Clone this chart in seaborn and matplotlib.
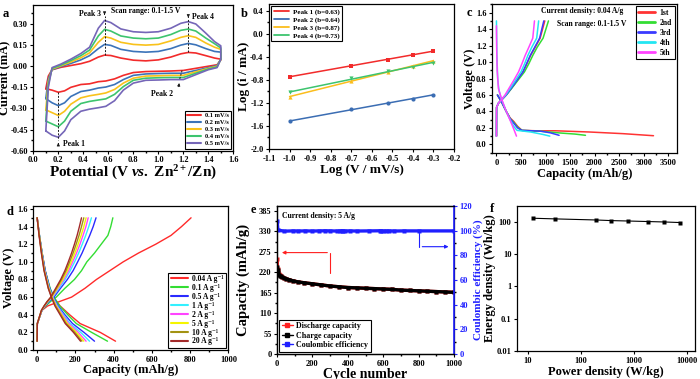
import numpy as np
import pandas as pd
import matplotlib
matplotlib.use("Agg")
import matplotlib.pyplot as plt
import seaborn as sns
from matplotlib.lines import Line2D
from matplotlib.ticker import MultipleLocator, AutoMinorLocator, FormatStrFormatter, FixedLocator, FixedFormatter, NullLocator

# ---------------- data ----------------
# (a) CV curves at 5 scan rates
rates_a = ["0.1 mV/s", "0.2 mV/s", "0.3 mV/s", "0.4 mV/s", "0.5 mV/s"]
colors_a = ["#f22b2b", "#3b73b9", "#f9c21b", "#3dc46e", "#7566b8"]
pot_down = [0.10, 0.15, 0.20, 0.25, 0.30, 0.38, 0.45, 0.52, 0.58, 0.65, 0.72, 0.80, 0.90, 1.00, 1.10, 1.20, 1.30, 1.40, 1.47, 1.50]
down_01 = [-0.16, -0.17, -0.185, -0.175, -0.15, -0.13, -0.125, -0.11, -0.105, -0.09, -0.065, -0.045, -0.038, -0.036, -0.034, -0.03, -0.015, 0.0, 0.01, 0.045]
down_02 = [-0.23, -0.26, -0.28, -0.26, -0.215, -0.18, -0.17, -0.155, -0.148, -0.13, -0.095, -0.065, -0.055, -0.052, -0.05, -0.05, -0.03, -0.01, 0.005, 0.05]
down_03 = [-0.31, -0.33, -0.35, -0.32, -0.27, -0.225, -0.21, -0.2, -0.19, -0.165, -0.12, -0.085, -0.07, -0.068, -0.065, -0.065, -0.04, -0.015, 0.0, 0.05]
down_04 = [-0.39, -0.41, -0.43, -0.39, -0.32, -0.265, -0.25, -0.24, -0.232, -0.2, -0.145, -0.1, -0.085, -0.082, -0.08, -0.08, -0.05, -0.02, -0.005, 0.05]
down_05 = [-0.46, -0.49, -0.505, -0.46, -0.38, -0.32, -0.305, -0.295, -0.285, -0.245, -0.17, -0.12, -0.1, -0.098, -0.095, -0.095, -0.06, -0.025, -0.01, 0.05]
pot_up = [0.10, 0.12, 0.15, 0.22, 0.30, 0.38, 0.45, 0.52, 0.57, 0.62, 0.70, 0.80, 0.90, 1.00, 1.10, 1.18, 1.24, 1.30, 1.38, 1.45, 1.50]
up_01 = [-0.16, -0.07, -0.025, -0.008, 0.005, 0.018, 0.035, 0.065, 0.079, 0.076, 0.058, 0.043, 0.038, 0.045, 0.065, 0.088, 0.098, 0.094, 0.075, 0.058, 0.05]
up_02 = [-0.23, -0.09, -0.025, -0.002, 0.02, 0.045, 0.075, 0.125, 0.155, 0.148, 0.12, 0.105, 0.10, 0.105, 0.125, 0.15, 0.162, 0.152, 0.125, 0.105, 0.10]
up_03 = [-0.31, -0.11, -0.02, 0.003, 0.03, 0.06, 0.095, 0.17, 0.21, 0.20, 0.17, 0.155, 0.15, 0.155, 0.18, 0.205, 0.217, 0.205, 0.165, 0.135, 0.12]
up_04 = [-0.39, -0.13, -0.015, 0.008, 0.04, 0.075, 0.115, 0.215, 0.262, 0.25, 0.215, 0.20, 0.195, 0.20, 0.225, 0.255, 0.264, 0.25, 0.20, 0.16, 0.13]
up_05 = [-0.46, -0.15, -0.01, 0.015, 0.05, 0.09, 0.135, 0.27, 0.325, 0.31, 0.265, 0.245, 0.24, 0.245, 0.27, 0.305, 0.317, 0.30, 0.235, 0.175, 0.145]

# (b) log i vs log v
log_v = [-1.0, -0.699, -0.523, -0.398, -0.301]
peak1 = [-0.743, -0.558, -0.454, -0.368, -0.293]
peak2 = [-1.52, -1.31, -1.198, -1.135, -1.06]
peak3 = [-1.095, -0.818, -0.662, -0.558, -0.471]
peak4 = [-1.02, -0.777, -0.65, -0.581, -0.50]
labels_b = ["Peak 1 (b=0.63)", "Peak 2 (b=0.64)", "Peak 3 (b=0.87)", "Peak 4 (b=0.73)"]
colors_b = ["#f22b2b", "#3b6db3", "#fbbd1c", "#3dc46e"]

# (c) first five cycles at 0.04 A/g
cycles_c = ["1st", "2nd", "3rd", "4th", "5th"]
colors_c = ["#ff3333", "#33dd33", "#3a3aff", "#22e6f2", "#ff44ff"]
dis_cap_1 = [20, 100, 200, 280, 350, 430, 520, 800, 1200, 1900, 2580, 3200]
dis_v_1 = [0.60, 0.52, 0.40, 0.32, 0.28, 0.22, 0.17, 0.165, 0.165, 0.15, 0.13, 0.105]
dis_cap_2 = [20, 100, 200, 280, 350, 430, 520, 900, 1300, 1600, 1814]
dis_v_2 = [0.60, 0.52, 0.40, 0.31, 0.27, 0.21, 0.17, 0.16, 0.138, 0.125, 0.11]
dis_cap_3 = [20, 100, 200, 280, 350, 430, 520, 900, 1100, 1277]
dis_v_3 = [0.60, 0.52, 0.40, 0.31, 0.26, 0.20, 0.17, 0.16, 0.14, 0.11]
dis_cap_4 = [0, 8, 25, 50, 100, 200, 280, 350, 420, 700, 950, 1087]
dis_v_4 = [1.50, 1.10, 0.80, 0.66, 0.55, 0.40, 0.30, 0.22, 0.17, 0.15, 0.12, 0.10]
dis_cap_5 = [0, 5, 15, 40, 100, 200, 280, 350, 408]
dis_v_5 = [1.44, 1.15, 0.90, 0.68, 0.56, 0.40, 0.29, 0.19, 0.10]
chg_v = [0.10, 0.45, 0.50, 0.55, 0.60, 0.68, 0.78, 0.88, 0.98, 1.08, 1.18, 1.29, 1.50]
chg_cap_1 = [0, 3, 40, 120, 200, 300, 420, 540, 620, 695, 790, 890, 985]
chg_cap_2 = [0, 3, 40, 120, 200, 310, 440, 570, 660, 740, 830, 950, 1060]
chg_cap_3 = [0, 3, 40, 120, 200, 300, 420, 540, 615, 690, 780, 880, 965]
chg_cap_4 = [0, 3, 40, 115, 190, 280, 390, 500, 575, 640, 720, 820, 860]
chg_cap_5 = [0, 3, 40, 110, 175, 255, 355, 450, 520, 585, 660, 740, 775]

# (d) rate performance
rates_d = ["0.04 A g⁻¹", "0.1 A g⁻¹", "0.5 A g⁻¹", "1 A g⁻¹",
           "2 A g⁻¹", "5 A g⁻¹", "10 A g⁻¹", "20 A g⁻¹"]
colors_d = ["#ff2a2a", "#33dd33", "#2a2aff", "#33f0ff", "#ff44ff", "#f5f500", "#a39212", "#a32a2a"]
d_chg_v = [0.10, 0.30, 0.45, 0.50, 0.55, 0.60, 0.70, 0.80, 0.90, 1.00, 1.10, 1.20, 1.30, 1.40, 1.50]
d_chg_004 = [0, 1, 25, 55, 117, 180, 250, 310, 380, 450, 530, 620, 700, 755, 805]
d_chg_01 = [0, 1, 25, 45, 70, 100, 145, 195, 232, 260, 300, 335, 370, 385, 396]
d_chg_05 = [0, 1, 25, 42, 62, 88, 122, 158, 188, 212, 235, 255, 275, 293, 308]
d_chg_1 = [0, 1, 24, 40, 58, 82, 114, 146, 173, 196, 217, 236, 254, 270, 284]
d_chg_2 = [0, 1, 24, 39, 56, 79, 109, 139, 165, 186, 206, 224, 240, 255, 267]
d_chg_5 = [0, 1, 23, 38, 55, 76, 105, 134, 158, 178, 197, 214, 230, 244, 256]
d_chg_10 = [0, 1, 23, 37, 53, 73, 101, 128, 151, 170, 188, 204, 219, 232, 244]
d_chg_20 = [0, 1, 22, 36, 52, 71, 97, 123, 145, 163, 180, 195, 209, 221, 232]
d_dis_v = [1.50, 1.30, 1.10, 0.90, 0.70, 0.60, 0.50, 0.40, 0.30, 0.20, 0.10]
d_dis_004 = [0, 12, 26, 42, 66, 85, 120, 170, 225, 330, 410]
d_dis_01 = [0, 12, 26, 42, 68, 88, 118, 160, 205, 285, 368]
d_dis_05 = [0, 12, 26, 42, 66, 84, 110, 145, 185, 245, 300]
d_dis_1 = [0, 12, 25, 40, 64, 82, 106, 138, 172, 228, 274]
d_dis_2 = [0, 11, 24, 39, 62, 80, 102, 133, 165, 215, 256]
d_dis_5 = [0, 11, 24, 38, 61, 78, 99, 128, 158, 205, 244]
d_dis_10 = [0, 11, 23, 37, 59, 76, 96, 124, 152, 197, 234]
d_dis_20 = [0, 10, 22, 36, 58, 74, 93, 120, 147, 190, 227]

# (e) long cycling at 5 A/g
cycles_e = [1, 3, 6, 10, 15, 20, 30, 40, 50, 70, 90, 120, 150, 200, 250, 300, 350, 400, 450, 500,
            550, 600, 650, 700, 750, 800, 850, 900, 950, 1000]
charge_e = [235, 225, 218, 214, 211, 209, 206, 205, 203, 200, 197, 194, 192, 189, 186, 183, 181, 179, 178, 177,
            176, 175, 174, 172, 171, 170, 169, 168, 167, 166]
discharge_e = [255, 228, 220, 215, 212, 210, 207, 205, 203, 200, 197, 194, 192, 189, 186, 183, 181, 179, 178, 177,
               176, 175, 174, 172, 171, 170, 169, 168, 167, 166]
ce_cycles = [1, 5, 40, 90, 120, 160, 200, 240, 270, 300, 340, 355, 365, 375, 385, 410, 450, 520,
             580, 590, 600, 615, 630, 660, 720, 805, 1000]
ce_vals = [108, 100.5, 99.6, 99.8, 99.7, 99.8, 99.7, 99.8, 99.9, 99.8, 99.7, 99.8, 99.9, 99.8, 99.7, 99.8,
           99.7, 99.8, 99.9, 99.8, 99.7, 99.8, 99.8, 99.7, 99.8, 99.8, 99.8]

# (f) Ragone plot
power_f = [12.2, 32.8, 192, 379, 782, 1865, 3790, 7593]
energy_f = [128, 122, 113, 108, 105, 101, 98, 94]

# ---------------- style ----------------
sns.set_theme(style="ticks")
plt.rcParams.update({
    "font.family": ["Liberation Serif", "DejaVu Serif"],
    "font.weight": "bold",
    "axes.labelweight": "bold",
    "mathtext.fontset": "custom",
    "mathtext.rm": "Liberation Serif:bold",
    "mathtext.bf": "Liberation Serif:bold",
    "mathtext.it": "Liberation Serif:italic:bold",
    "axes.unicode_minus": False,
    "axes.edgecolor": "black",
    "axes.linewidth": 0.9,
    "text.color": "black",
    "axes.labelcolor": "black",
    "xtick.color": "black",
    "ytick.color": "black",
    "xtick.labelsize": 6,
    "ytick.labelsize": 6,
    "xtick.major.size": 2.5,
    "ytick.major.size": 2.5,
    "xtick.minor.size": 1.5,
    "ytick.minor.size": 1.5,
    "xtick.major.width": 0.8,
    "ytick.major.width": 0.8,
    "xtick.major.pad": 1.5,
    "ytick.major.pad": 1.5,
    "legend.fancybox": False,
    "legend.edgecolor": "black",
    "legend.framealpha": 1,
})

fig = plt.figure(figsize=(7, 3.79), dpi=100)
ax_a = fig.add_axes([0.0476, 0.6025, 0.2857, 0.3843])
ax_b = fig.add_axes([0.3843, 0.6069, 0.2643, 0.3826])
ax_c = fig.add_axes([0.7029, 0.5963, 0.2643, 0.3931])
ax_d = fig.add_axes([0.0476, 0.0765, 0.2786, 0.3800])
ax_e = fig.add_axes([0.3957, 0.0660, 0.2529, 0.3905])
ax_f = fig.add_axes([0.7386, 0.0739, 0.2543, 0.3826])


def ticks(ax, xstep, ystep, xfmt, yfmt):
    ax.xaxis.set_major_locator(MultipleLocator(xstep))
    ax.yaxis.set_major_locator(MultipleLocator(ystep))
    ax.xaxis.set_minor_locator(AutoMinorLocator(2))
    ax.yaxis.set_minor_locator(AutoMinorLocator(2))
    ax.xaxis.set_major_formatter(FormatStrFormatter(xfmt))
    ax.yaxis.set_major_formatter(FormatStrFormatter(yfmt))


def labels(ax, xlab, ylab, size, yx, ysize=None, xpad=1):
    ax.set_xlabel(xlab, fontsize=size, labelpad=xpad)
    # y label centre placed where the reference has it
    ax.set_ylabel(ylab, fontsize=ysize or size, va="center", ha="center")
    ax.yaxis.set_label_coords(yx, 0.5)


def legend(ax, handles, labs, size, **kw):
    opts = dict(fontsize=size, handlelength=2.2, borderpad=0.35, labelspacing=0.25,
                handletextpad=0.6, borderaxespad=0.3)
    opts.update(kw)
    leg = ax.legend(handles, labs, **opts)
    leg.get_frame().set_linewidth(0.8)
    return leg

# ---------------- (a) ----------------
ups = [up_01, up_02, up_03, up_04, up_05]
downs = [down_01, down_02, down_03, down_04, down_05]
cv = pd.concat([pd.DataFrame({"Potential": pot_down + pot_up[::-1],
                              "Current": dn + up[::-1], "rate": r})
                for r, dn, up in zip(rates_a, downs, ups)], ignore_index=True)
sns.lineplot(data=cv, x="Potential", y="Current", hue="rate", palette=colors_a,
             sort=False, estimator=None, lw=1.2, legend=False, ax=ax_a)
ax_a.set_xlim(0, 1.6)
ax_a.set_ylim(-0.6, 0.435)
ticks(ax_a, 0.2, 0.15, "%.1f", "%.2f")
labels(ax_a, r"Potential (V $\mathit{vs.}$ Zn$^{2+}$/Zn)", "Current (mA)", 11, -0.14, 9, xpad=0)

# dashed guides through the peaks
i3 = pot_up.index(0.57)
i4 = pot_up.index(1.24)
i1 = pot_down.index(0.20)
i2 = pot_down.index(1.20)
ax_a.plot([0.57, 0.57], [up_01[i3], up_05[i3] + 0.03], "k--", lw=0.7, dashes=(2, 1.5))
ax_a.plot([1.24, 1.24], [up_01[i4], up_05[i4] + 0.02], "k--", lw=0.7, dashes=(2, 1.5))
ax_a.plot([0.20, 0.20], [down_01[i1], down_05[i1] - 0.02], "k--", lw=0.7, dashes=(2, 1.5))
ax_a.plot([1.19, 1.17], [down_01[i2], down_05[i2]], "k--", lw=0.7, dashes=(2, 1.5))
arw = dict(arrowstyle="-|>", color="k", lw=0.6, mutation_scale=4)
ax_a.annotate("", xy=(0.57, 0.345), xytext=(0.57, 0.39), arrowprops=arw)
ax_a.annotate("", xy=(1.24, 0.325), xytext=(1.24, 0.37), arrowprops=arw)
ax_a.annotate("", xy=(0.20, -0.525), xytext=(0.20, -0.575), arrowprops=arw)
ax_a.annotate("", xy=(1.17, -0.10), xytext=(1.16, -0.165), arrowprops=arw)
ax_a.text(0.54, 0.37, "Peak 3", fontsize=5.5, ha="right", va="center")
ax_a.text(0.62, 0.395, "Scan range: 0.1-1.5 V", fontsize=5.5, ha="left", va="center")
ax_a.text(1.27, 0.35, "Peak 4", fontsize=5.5, ha="left", va="center")
ax_a.text(1.12, -0.195, "Peak 2", fontsize=5.5, ha="right", va="center")
ax_a.text(0.24, -0.555, "Peak 1", fontsize=5.5, ha="left", va="center")
legend(ax_a, [Line2D([], [], color=c, lw=1.5) for c in colors_a], rates_a, 4.6,
       loc="lower right")

# ---------------- (b) ----------------
markers_b = ["s", "o", "^", "v"]
for pk, c, m in zip([peak1, peak2, peak3, peak4], colors_b, markers_b):
    sns.regplot(x=log_v, y=pk, ci=None, color=c, marker=m, ax=ax_b,
                scatter_kws={"s": 9, "alpha": 1, "linewidths": 0},
                line_kws={"lw": 1.1})
ax_b.set_xlim(-1.1, -0.2)
ax_b.set_ylim(-2.0, 0.515)
ticks(ax_b, 0.1, 0.4, "%.1f", "%.1f")
ax_b.xaxis.set_minor_locator(NullLocator())
labels(ax_b, "Log (V / mV/s)", "Log (i / mA)", 9.5, -0.135)
legend(ax_b, [Line2D([], [], color=c, lw=1.3) for c in colors_b], labels_b, 5.0,
       loc="upper left")

# ---------------- (c) ----------------
dis_c = [(dis_cap_1, dis_v_1), (dis_cap_2, dis_v_2), (dis_cap_3, dis_v_3),
         (dis_cap_4, dis_v_4), (dis_cap_5, dis_v_5)]
chg_c = [chg_cap_1, chg_cap_2, chg_cap_3, chg_cap_4, chg_cap_5]
for (dc, dv), cc, col in zip(dis_c, chg_c, colors_c):
    sns.lineplot(x=dc, y=dv, sort=False, estimator=None, color=col, lw=1.1, ax=ax_c)
    sns.lineplot(x=cc, y=chg_v, sort=False, estimator=None, color=col, lw=1.1, ax=ax_c)
ax_c.set_xlim(-90, 3680)
ax_c.set_ylim(-0.105, 1.705)
ticks(ax_c, 500, 0.2, "%d", "%.1f")
labels(ax_c, "Capacity (mAh/g)", "Voltage (V)", 9, -0.12)
ax_c.text(900, 1.62, "Current density: 0.04 A/g", fontsize=5.5, va="center")
ax_c.text(1243, 1.46, "Scan range: 0.1-1.5 V", fontsize=5.5, va="center")
legend(ax_c, [Line2D([], [], color=c, lw=2) for c in colors_c], cycles_c, 5.5,
       loc="upper right")

# ---------------- (d) ----------------
d_chg = [d_chg_004, d_chg_01, d_chg_05, d_chg_1, d_chg_2, d_chg_5, d_chg_10, d_chg_20]
d_dis = [d_dis_004, d_dis_01, d_dis_05, d_dis_1, d_dis_2, d_dis_5, d_dis_10, d_dis_20]
for cc, dc, col in zip(d_chg, d_dis, colors_d):
    sns.lineplot(x=dc, y=d_dis_v, sort=False, estimator=None, color=col, lw=1.0, ax=ax_d)
    sns.lineplot(x=cc, y=d_chg_v, sort=False, estimator=None, color=col, lw=1.0, ax=ax_d)
ax_d.set_xlim(-20, 1000)
ax_d.set_ylim(0, 1.634)
ticks(ax_d, 200, 0.2, "%d", "%.1f")
labels(ax_d, "Capacity (mAh/g)", "Voltage (V)", 9, -0.125, xpad=0)
legend(ax_d, [Line2D([], [], color=c, lw=1.5) for c in colors_d], rates_d, 5.5,
       loc="lower right", labelspacing=0.12, borderpad=0.3)

# ---------------- (e) ----------------
blue_e = "#1f1fff"
sns.lineplot(x=cycles_e, y=discharge_e, color="#ff2020", marker="s", ms=2.5, mec="none",
             lw=2.4, ax=ax_e)
sns.lineplot(x=cycles_e, y=charge_e, color="black", marker="s", ms=2.5, mec="none",
             lw=2.4, ax=ax_e)
ax_e.set_xlim(0, 1000)
ax_e.set_ylim(0, 398.5)
ticks(ax_e, 200, 55, "%d", "%d")
labels(ax_e, "Cycle number", "Capacity (mAh/g)", 10, -0.19, 10.5, xpad=0)
ax_e.text(30, 372, "Current density: 5 A/g", fontsize=5.5, va="center")
ax_e.plot([300, 300], [218, 273], color="#ff2020", lw=0.8)
ax_e.annotate("", xy=(12, 273), xytext=(300, 273),
              arrowprops=dict(arrowstyle="-|>", color="#ff2020", lw=0.8, mutation_scale=5))

ax_e2 = ax_e.twinx()
sns.lineplot(x=ce_cycles, y=ce_vals, color=blue_e, marker="s", ms=3, mec="none",
             lw=2.4, ax=ax_e2)
ax_e2.set_ylim(0, 120)
ax_e2.yaxis.set_major_locator(MultipleLocator(20))
ax_e2.yaxis.set_minor_locator(AutoMinorLocator(2))
ax_e2.tick_params(axis="y", colors=blue_e, labelsize=6)
ax_e2.spines["right"].set_color(blue_e)
ax_e2.spines["right"].set_linewidth(1.2)
ax_e2.set_ylabel("Coulombic efficiency (%)", fontsize=8, color=blue_e, va="center", ha="center")
ax_e2.yaxis.set_label_coords(1.138, 0.5)
ax_e2.plot([805, 805], [98.5, 87], color=blue_e, lw=0.8)
ax_e2.annotate("", xy=(985, 87), xytext=(805, 87),
               arrowprops=dict(arrowstyle="-|>", color=blue_e, lw=0.8, mutation_scale=5))
hd = [Line2D([], [], color=c, marker="s", ms=3, lw=1) for c in ["#ff2020", "black", blue_e]]
legend(ax_e2, hd, ["Discharge capacity", "Charge capacity", "Coulombic efficiency"], 5.8,
       loc="lower left", handlelength=1.4, borderpad=0.3, labelspacing=0.2, handletextpad=0.4)

# ---------------- (f) ----------------
sns.lineplot(x=power_f, y=energy_f, color="black", marker="s", ms=3.5, mec="none",
             lw=0.8, ax=ax_f)
ax_f.set_xscale("log")
ax_f.set_yscale("log")
ax_f.set_xlim(6.2, 14400)
ax_f.set_ylim(0.01, 306)
ax_f.xaxis.set_major_locator(FixedLocator([10, 100, 1000, 10000]))
ax_f.xaxis.set_major_formatter(FixedFormatter(["10", "100", "1000", "10000"]))
ax_f.yaxis.set_major_locator(FixedLocator([0.01, 0.1, 1, 10, 100]))
ax_f.yaxis.set_major_formatter(FixedFormatter(["0.01", "0.1", "1", "10", "100"]))
ax_f.xaxis.set_minor_locator(NullLocator())
ax_f.yaxis.set_minor_locator(NullLocator())
labels(ax_f, "Power density (W/kg)", "Energy density (Wh/kg)", 9, -0.15)

# panel letters
for lab, x, y in [("a", 6, 14), ("b", 244, 14), ("c", 469, 13),
                  ("d", 10, 212), ("e", 253, 210), ("f", 492, 209)]:
    fig.text(x / 700, 1 - y / 379, lab, fontsize=9, fontweight="bold", ha="center", va="center")

fig.savefig("out.png", dpi=100)
